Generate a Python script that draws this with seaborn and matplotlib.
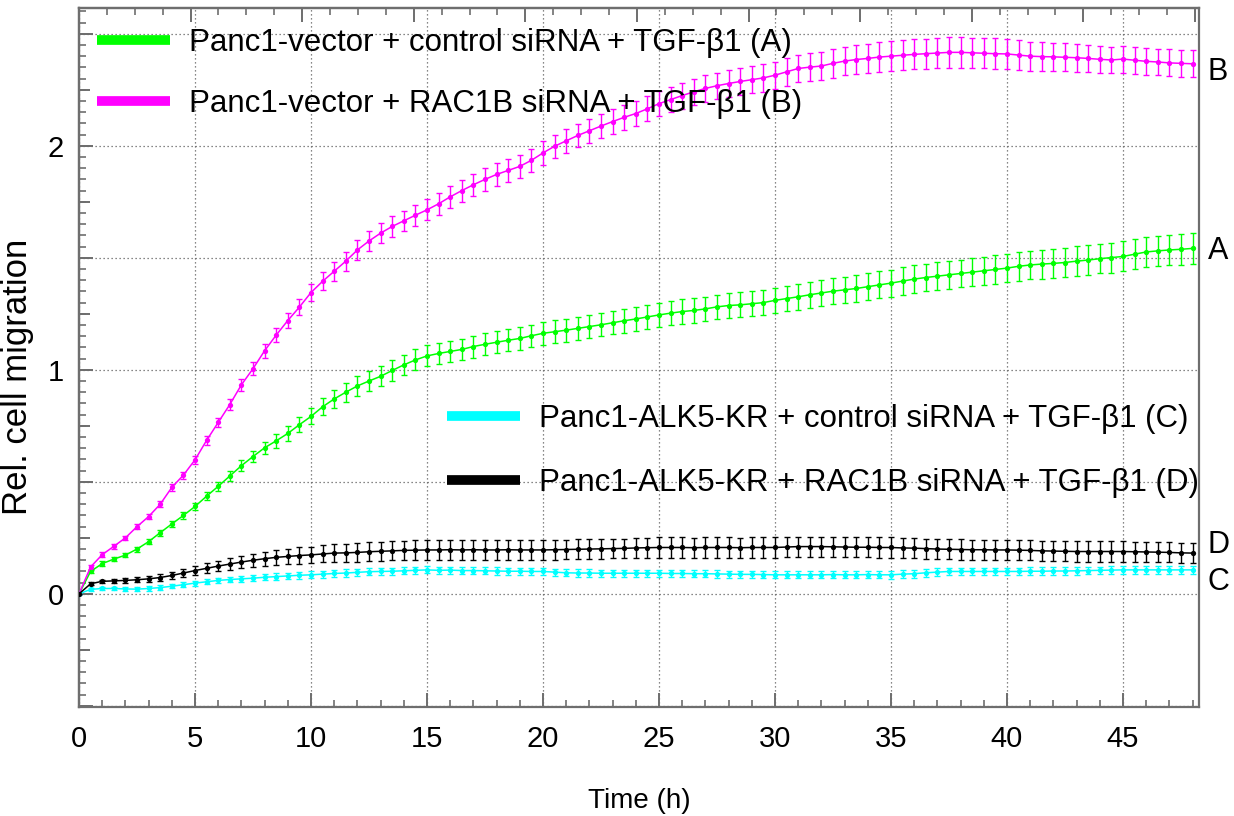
import numpy as np
import pandas as pd
import matplotlib
matplotlib.use("Agg")
import matplotlib.pyplot as plt
from matplotlib.ticker import MultipleLocator, FuncFormatter
from matplotlib.lines import Line2D
import seaborn as sns

# ---------------- data ----------------
time_h = np.arange(0, 48.01, 0.5)

series_names = ["A", "B", "C", "D"]
series_labels = [
    "Panc1-vector + control siRNA + TGF-\u03b21 (A)",
    "Panc1-vector + RAC1B siRNA + TGF-\u03b21 (B)",
    "Panc1-ALK5-KR + control siRNA + TGF-\u03b21 (C)",
    "Panc1-ALK5-KR + RAC1B siRNA + TGF-\u03b21 (D)",
]
series_colors = ["#00ff00", "#ff00ff", "#00ffff", "#000000"]

val_A = [0, 0.10, 0.135, 0.155, 0.173, 0.20, 0.233, 0.273, 0.312, 0.35,
         0.39, 0.436, 0.48, 0.526, 0.572, 0.613, 0.652, 0.683, 0.716, 0.755,
         0.792, 0.835, 0.87, 0.90, 0.928, 0.95, 0.971, 0.997, 1.022, 1.044,
         1.062, 1.073, 1.082, 1.091, 1.104, 1.114, 1.123, 1.132, 1.14, 1.152,
         1.163, 1.17, 1.177, 1.185, 1.193, 1.201, 1.21, 1.219, 1.227, 1.236,
         1.245, 1.253, 1.26, 1.265, 1.272, 1.281, 1.287, 1.29, 1.295, 1.30,
         1.31, 1.318, 1.326, 1.335, 1.343, 1.351, 1.357, 1.363, 1.371, 1.379,
         1.387, 1.396, 1.405, 1.412, 1.418, 1.424, 1.43, 1.436, 1.442, 1.448,
         1.454, 1.462, 1.468, 1.472, 1.475, 1.479, 1.485, 1.49, 1.496, 1.501,
         1.506, 1.516, 1.526, 1.531, 1.535, 1.538, 1.542]
err_A = [0, 0.008, 0.01, 0.01, 0.01, 0.011, 0.012, 0.013, 0.014, 0.015,
         0.016, 0.018, 0.02, 0.022, 0.024, 0.026, 0.028, 0.03, 0.032, 0.034,
         0.036, 0.038, 0.04, 0.042, 0.043, 0.044, 0.045, 0.046, 0.046, 0.047,
         0.047, 0.048, 0.048, 0.048, 0.049, 0.049, 0.049, 0.05, 0.05, 0.05,
         0.05, 0.051, 0.051, 0.051, 0.052, 0.052, 0.052, 0.053, 0.053, 0.053,
         0.054, 0.054, 0.054, 0.055, 0.055, 0.055, 0.056, 0.056, 0.056, 0.057,
         0.057, 0.057, 0.058, 0.058, 0.058, 0.059, 0.059, 0.059, 0.06, 0.06,
         0.06, 0.061, 0.061, 0.061, 0.062, 0.062, 0.062, 0.063, 0.063, 0.063,
         0.064, 0.064, 0.064, 0.065, 0.065, 0.065, 0.066, 0.066, 0.066, 0.067,
         0.067, 0.067, 0.068, 0.068, 0.068, 0.069, 0.069]

val_B = [0, 0.12, 0.175, 0.212, 0.25, 0.30, 0.345, 0.40, 0.475, 0.53,
         0.598, 0.685, 0.765, 0.845, 0.933, 1.005, 1.085, 1.155, 1.22, 1.28,
         1.345, 1.395, 1.44, 1.485, 1.535, 1.575, 1.61, 1.64, 1.665, 1.69,
         1.714, 1.741, 1.772, 1.80, 1.826, 1.85, 1.872, 1.89, 1.908, 1.935,
         1.968, 1.998, 2.022, 2.046, 2.067, 2.088, 2.108, 2.127, 2.144, 2.165,
         2.188, 2.206, 2.224, 2.241, 2.256, 2.268, 2.278, 2.287, 2.295, 2.303,
         2.315, 2.33, 2.345, 2.351, 2.356, 2.368, 2.378, 2.385, 2.39, 2.396,
         2.40, 2.404, 2.408, 2.411, 2.414, 2.417, 2.417, 2.415, 2.413, 2.411,
         2.41, 2.405, 2.40, 2.398, 2.397, 2.395, 2.393, 2.39, 2.386, 2.383,
         2.387, 2.382, 2.377, 2.374, 2.37, 2.368, 2.366]
err_B = [0, 0.008, 0.01, 0.01, 0.01, 0.012, 0.012, 0.014, 0.015, 0.016,
         0.018, 0.02, 0.022, 0.024, 0.026, 0.028, 0.03, 0.032, 0.034, 0.036,
         0.038, 0.04, 0.042, 0.043, 0.044, 0.045, 0.045, 0.046, 0.046, 0.047,
         0.047, 0.048, 0.048, 0.049, 0.049, 0.05, 0.05, 0.05, 0.051, 0.051,
         0.052, 0.052, 0.053, 0.053, 0.054, 0.054, 0.055, 0.055, 0.056, 0.056,
         0.057, 0.057, 0.058, 0.058, 0.059, 0.059, 0.06, 0.06, 0.06, 0.061,
         0.061, 0.062, 0.062, 0.063, 0.063, 0.064, 0.064, 0.065, 0.065, 0.066,
         0.066, 0.066, 0.067, 0.067, 0.067, 0.068, 0.068, 0.068, 0.068, 0.068,
         0.068, 0.066, 0.065, 0.064, 0.063, 0.062, 0.062, 0.061, 0.06, 0.06,
         0.06, 0.06, 0.06, 0.06, 0.06, 0.06, 0.06]

val_C = [0, 0.02, 0.024, 0.024, 0.022, 0.021, 0.024, 0.028, 0.034, 0.041,
         0.048, 0.054, 0.06, 0.064, 0.067, 0.07, 0.074, 0.077, 0.08, 0.083,
         0.085, 0.088, 0.091, 0.093, 0.096, 0.099, 0.1, 0.101, 0.103, 0.105,
         0.107, 0.105, 0.106, 0.104, 0.104, 0.103, 0.102, 0.101, 0.101, 0.1,
         0.1, 0.097, 0.094, 0.093, 0.093, 0.092, 0.092, 0.092, 0.092, 0.092,
         0.092, 0.091, 0.091, 0.09, 0.09, 0.089, 0.088, 0.087, 0.087, 0.086,
         0.085, 0.085, 0.085, 0.085, 0.085, 0.086, 0.085, 0.085, 0.086, 0.085,
         0.085, 0.088, 0.09, 0.094, 0.097, 0.1, 0.1, 0.1, 0.1, 0.1,
         0.1, 0.1, 0.101, 0.101, 0.102, 0.102, 0.103, 0.104, 0.105, 0.106,
         0.107, 0.107, 0.107, 0.107, 0.107, 0.107, 0.107]
err_C = [0, 0.006, 0.007, 0.008, 0.008, 0.009, 0.009, 0.01, 0.01, 0.011,
         0.011, 0.012, 0.012, 0.013, 0.013, 0.014, 0.014, 0.014, 0.015, 0.015,
         0.015, 0.015, 0.016, 0.016, 0.016, 0.016, 0.016, 0.016, 0.016, 0.016,
         0.016, 0.016, 0.016, 0.016, 0.016, 0.016, 0.016, 0.016, 0.016, 0.016,
         0.016, 0.016, 0.016, 0.016, 0.016, 0.016, 0.016, 0.016, 0.016, 0.016,
         0.016, 0.016, 0.016, 0.016, 0.016, 0.016, 0.016, 0.016, 0.016, 0.016,
         0.016, 0.016, 0.016, 0.016, 0.016, 0.016, 0.016, 0.016, 0.016, 0.016,
         0.017, 0.017, 0.017, 0.017, 0.017, 0.017, 0.017, 0.017, 0.017, 0.017,
         0.017, 0.017, 0.017, 0.017, 0.017, 0.017, 0.017, 0.017, 0.017, 0.017,
         0.017, 0.017, 0.017, 0.017, 0.017, 0.017, 0.017]

val_D = [0, 0.045, 0.056, 0.058, 0.06, 0.063, 0.067, 0.073, 0.082, 0.093,
         0.104, 0.114, 0.124, 0.133, 0.142, 0.150, 0.157, 0.163, 0.167, 0.171,
         0.174, 0.178, 0.182, 0.183, 0.185, 0.188, 0.19, 0.192, 0.194, 0.195,
         0.196, 0.196, 0.197, 0.196, 0.197, 0.196, 0.196, 0.197, 0.196, 0.196,
         0.196, 0.197, 0.198, 0.199, 0.2, 0.201, 0.202, 0.203, 0.205, 0.206,
         0.207, 0.207, 0.207, 0.206, 0.207, 0.207, 0.207, 0.206, 0.207, 0.207,
         0.207, 0.209, 0.211, 0.211, 0.211, 0.21, 0.209, 0.208, 0.208, 0.207,
         0.207, 0.205, 0.204, 0.202, 0.2, 0.199, 0.198, 0.197, 0.197, 0.196,
         0.196, 0.195, 0.194, 0.192, 0.191, 0.19, 0.189, 0.189, 0.189, 0.189,
         0.189, 0.188, 0.187, 0.186, 0.185, 0.183, 0.182]
err_D = [0, 0.006, 0.008, 0.01, 0.011, 0.012, 0.013, 0.014, 0.016, 0.018,
         0.02, 0.022, 0.024, 0.026, 0.028, 0.03, 0.032, 0.034, 0.035, 0.036,
         0.037, 0.038, 0.039, 0.04, 0.041, 0.042, 0.042, 0.043, 0.043, 0.044,
         0.044, 0.044, 0.044, 0.044, 0.044, 0.044, 0.044, 0.044, 0.044, 0.044,
         0.044, 0.044, 0.044, 0.044, 0.044, 0.044, 0.044, 0.044, 0.044, 0.044,
         0.045, 0.045, 0.045, 0.045, 0.045, 0.045, 0.045, 0.045, 0.045, 0.045,
         0.045, 0.045, 0.045, 0.045, 0.045, 0.045, 0.045, 0.045, 0.045, 0.045,
         0.045, 0.045, 0.045, 0.045, 0.045, 0.045, 0.045, 0.045, 0.045, 0.045,
         0.045, 0.045, 0.045, 0.045, 0.045, 0.045, 0.045, 0.045, 0.045, 0.045,
         0.045, 0.045, 0.045, 0.045, 0.045, 0.045, 0.045]

values = {"A": val_A, "B": val_B, "C": val_C, "D": val_D}
errors = {"A": err_A, "B": err_B, "C": err_C, "D": err_D}

x_ticks = [0, 5, 10, 15, 20, 25, 30, 35, 40, 45]

# ---------------- style ----------------
sns.set_style("white")
FONT = ["Liberation Sans", "DejaVu Sans"]
plt.rcParams["font.family"] = FONT
plt.rcParams["text.color"] = "black"
plt.rcParams["axes.labelcolor"] = "black"
plt.rcParams["xtick.color"] = "black"
plt.rcParams["ytick.color"] = "black"

W, H = 1234, 816
fig = plt.figure(figsize=(W / 100, H / 100), dpi=100)
ax = fig.add_axes([79 / W, 109 / H, 1120 / W, 699 / H])

rows = []
for s in series_names:
    for t, v, e in zip(time_h, values[s], errors[s]):
        rows.append((s, t, v, e))
df = pd.DataFrame(rows, columns=["series", "time", "value", "err"])
palette = dict(zip(series_names, series_colors))

# error bars first, then the lines with markers
for s in ["A", "B", "C", "D"]:
    d = df[df.series == s]
    ax.errorbar(d.time, d.value, yerr=d.err, fmt="none", ecolor=palette[s],
                elinewidth=1.0, capsize=2.2, capthick=1.0, zorder=3)
sns.lineplot(data=df, x="time", y="value", hue="series", palette=palette,
             hue_order=["A", "B", "C", "D"], marker="o", markersize=3.8,
             markeredgewidth=0, linewidth=1.1, legend=False, ax=ax,
             estimator=None, sort=False, zorder=4)

ax.set_xlim(0, 48.28)
ax.set_ylim(-0.505, 2.615)

# grid
ax.grid(True, which="major", linestyle=(0, (1, 2.2)), color="#606060", linewidth=0.9)

# ticks
spine_col = "#6e6e6e"
ax.xaxis.set_major_locator(MultipleLocator(5))
ax.xaxis.set_minor_locator(MultipleLocator(1))
ax.yaxis.set_major_locator(MultipleLocator(0.5))
ax.yaxis.set_minor_locator(MultipleLocator(0.05))
ax.yaxis.set_major_formatter(FuncFormatter(
    lambda v, p: f"{v:.0f}" if abs(v - round(v)) < 1e-6 else ""))
ax.set_xticks(x_ticks)
ax.set_xticklabels([str(t) for t in x_ticks])
ax.tick_params(axis="both", which="major", direction="in", length=10, width=1.4,
               color=spine_col, labelcolor="black", labelsize=21,
               bottom=True, left=True, top=False, right=False)
ax.tick_params(axis="both", which="minor", direction="in", length=5, width=1.2,
               color=spine_col, bottom=True, left=True, top=False, right=False)
ax.tick_params(axis="x", which="major", pad=13)
ax.tick_params(axis="y", which="major", pad=11)

for sp in ax.spines.values():
    sp.set_color(spine_col)
    sp.set_linewidth(1.6)

# extra left ticks every 0.25 (no labels)
secy = ax.secondary_yaxis("left")
secy.yaxis.set_major_locator(MultipleLocator(0.25))
secy.yaxis.set_major_formatter(FuncFormatter(lambda v, p: ""))
secy.tick_params(direction="in", length=8, width=1.4, color=spine_col, left=True)
secy.spines["left"].set_color(spine_col)
secy.spines["left"].set_linewidth(1.6)

# top ticks (instrument time scale, no labels)
secx = ax.secondary_xaxis("top", functions=(lambda x: x / 1.2026, lambda u: u * 1.2026))
secx.xaxis.set_major_locator(MultipleLocator(4))
secx.xaxis.set_minor_locator(MultipleLocator(1))
secx.xaxis.set_major_formatter(FuncFormatter(lambda v, p: ""))
secx.tick_params(which="major", direction="in", length=10, width=1.4, color=spine_col, top=True)
secx.tick_params(which="minor", direction="in", length=5, width=1.2, color=spine_col, top=True)
secx.spines["top"].set_color(spine_col)
secx.spines["top"].set_linewidth(1.6)

ax.set_xlabel("Time (h)", fontsize=20, labelpad=25, color="black")
ax.set_ylabel("Rel. cell migration", fontsize=25, color="black")
ax.yaxis.set_label_coords((34 - 79) / 1120, (707 - 377) / 699)

# end labels (offsets upward in pixels)
label_offsets = {"A": -3, "B": -8, "C": -12, "D": 8}
for s in series_names:
    ax.annotate(s, xy=(time_h[-1], values[s][-1]), xytext=(15, label_offsets[s]),
                textcoords="offset pixels", ha="left", va="center",
                fontsize=22, color="black", annotation_clip=False)

# legends
handles = [Line2D([], [], color=c, lw=7, solid_capstyle="butt") for c in series_colors]
leg1 = ax.legend(handles[:2], series_labels[:2], loc="upper left",
                 bbox_to_anchor=((97 - 79) / 1120, (707 - 28) / 699),
                 frameon=False, borderaxespad=0, borderpad=0,
                 handlelength=2.35, handletextpad=0.6, labelspacing=1.0,
                 prop={"size": 22.5})
ax.add_artist(leg1)
leg2 = ax.legend(handles[2:], series_labels[2:], loc="upper left",
                 bbox_to_anchor=((447 - 79) / 1120, (707 - 404) / 699),
                 frameon=False, borderaxespad=0, borderpad=0,
                 handlelength=2.35, handletextpad=0.6, labelspacing=1.1,
                 prop={"size": 22.5})

fig.savefig("out.png", dpi=100)
